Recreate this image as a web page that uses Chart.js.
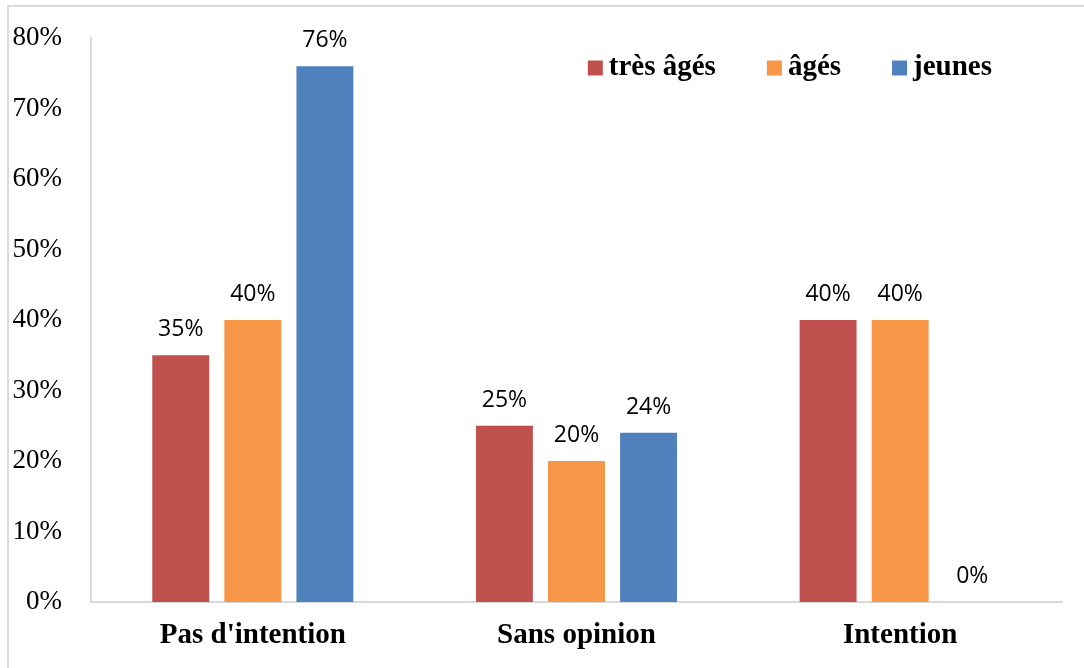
<!DOCTYPE html>
<html>
<head>
<meta charset="utf-8">
<script src="https://cdn.jsdelivr.net/npm/chart.js@4"></script>
<style>
html,body{margin:0;padding:0;background:#fff;}
#wrap{position:relative;width:1084px;height:668px;overflow:hidden;}
#frame{position:absolute;left:7px;top:5px;width:1100px;height:700px;border-top:2px solid #d9d9d9;border-left:2px solid #d9d9d9;box-sizing:border-box;}
canvas{position:absolute;left:0;top:0;}
</style>
</head>
<body>
<div id="wrap"><div id="frame"></div><canvas id="c" width="1084" height="668"></canvas></div>
<script>
const categories = ["Pas d'intention", "Sans opinion", "Intention"];
const seriesNames = ["très âgés", "âgés", "jeunes"];
const tresAges = [35, 25, 40];
const ages = [40, 20, 40];
const jeunes = [76, 24, 0];
const yTicks = [0, 10, 20, 30, 40, 50, 60, 70, 80];
const colors = ["#c0504d", "#f79646", "#4f81bd"];

const labelPlugin = {
  id: 'barLabels',
  afterDatasetsDraw(chart) {
    const ctx = chart.ctx;
    ctx.save();
    ctx.font = '23px "Open Sans", "Noto Sans", sans-serif';
    ctx.fillStyle = '#000';
    ctx.textAlign = 'center';
    ctx.textBaseline = 'alphabetic';
    chart.data.datasets.forEach((ds, i) => {
      const meta = chart.getDatasetMeta(i);
      meta.data.forEach((bar, j) => {
        ctx.fillText(ds.data[j] + '%', bar.x, bar.y - 19);
      });
    });
    ctx.restore();
  }
};

const legendPlugin = {
  id: 'customLegend',
  afterDraw(chart) {
    const ctx = chart.ctx;
    const area = chart.chartArea;
    ctx.save();
    ctx.font = 'bold 29px "Liberation Serif", "Times New Roman", serif';
    ctx.textBaseline = 'middle';
    const box = 15, gapText = 6, gapItem = 51;
    let widths = seriesNames.map(n => box + gapText + ctx.measureText(n).width);
    let total = widths.reduce((a, b) => a + b, 0) + gapItem * (seriesNames.length - 1);
    let x = area.right - 70 - total;
    const yc = area.top + 30;
    seriesNames.forEach((n, i) => {
      ctx.fillStyle = colors[i];
      ctx.fillRect(x, yc - box / 2, box, box);
      ctx.fillStyle = '#000';
      ctx.textAlign = 'left';
      ctx.fillText(n, x + box + gapText, yc);
      x += widths[i] + gapItem;
    });
    ctx.restore();
  }
};

new Chart(document.getElementById('c'), {
  type: 'bar',
  data: {
    labels: categories,
    datasets: [
      { label: seriesNames[0], data: tresAges, backgroundColor: colors[0] },
      { label: seriesNames[1], data: ages, backgroundColor: colors[1] },
      { label: seriesNames[2], data: jeunes, backgroundColor: colors[2] }
    ]
  },
  options: {
    responsive: false,
    animation: false,
    devicePixelRatio: 1,
    layout: { padding: { left: 0, right: 22, top: 38, bottom: 0 } },
    datasets: { bar: { categoryPercentage: 0.668, barPercentage: 0.79 } },
    plugins: { legend: { display: false }, tooltip: { enabled: false } },
    scales: {
      x: {
        grid: { display: false, drawTicks: false },
        border: { display: true, color: '#d9d9d9', width: 2 },
        ticks: {
          color: '#000',
          padding: 17,
          font: { family: '"Liberation Serif", "Times New Roman", serif', size: 29, weight: 'bold', lineHeight: 1.1 }
        }
      },
      y: {
        min: 0, max: 80,
        afterBuildTicks(axis) { axis.ticks = yTicks.map(v => ({ value: v })); },
        grid: { display: false, drawTicks: false },
        border: { display: true, color: '#d9d9d9', width: 2 },
        afterFit(axis) { axis.width = 91; axis.paddingTop = 0; axis.paddingBottom = 0; },
        ticks: {
          color: '#000',
          padding: 29,
          callback: v => v + '%',
          font: { family: '"Liberation Serif", "Times New Roman", serif', size: 27 }
        }
      }
    }
  },
  plugins: [labelPlugin, legendPlugin]
});
</script>
</body>
</html>
